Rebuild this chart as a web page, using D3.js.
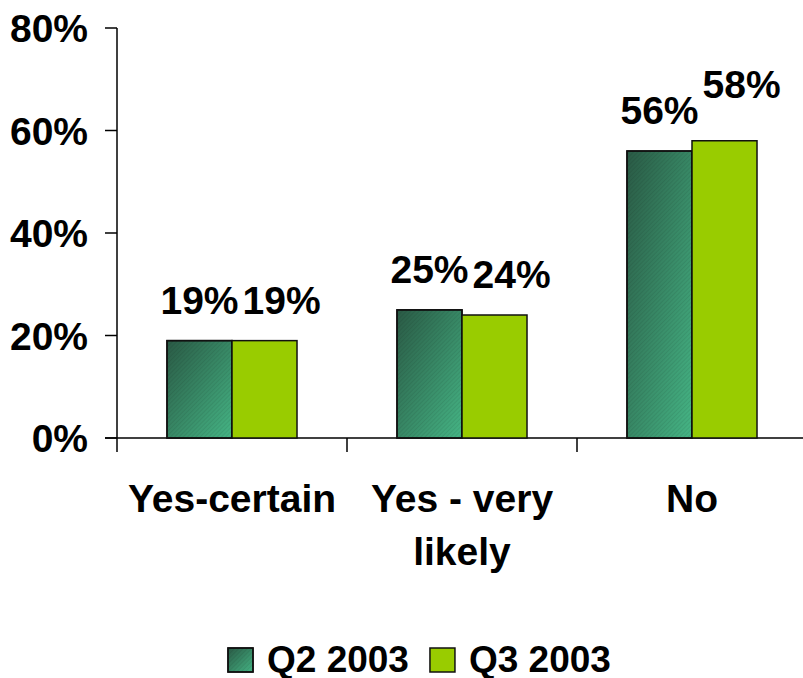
<!DOCTYPE html>
<html lang="en">
<head>
    <meta charset="UTF-8">
    <title>Chart</title>
    <script src="https://cdn.jsdelivr.net/npm/d3@7"></script>
    <style>
        body{margin:0;background:#fff;}
        text{font-family:"Liberation Sans",Arial,sans-serif;font-weight:bold;fill:#000;}
    </style>
</head>
<body>
<svg></svg>
<script>
    //chart data
    var categories = [["Yes-certain"], ["Yes - very", "likely"], ["No"]];
    var seriesNames = ["Q2 2003", "Q3 2003"];
    var q2Values = [19, 25, 56];
    var q3Values = [19, 24, 58];
    var yTicks = [0, 20, 40, 60, 80];

    var W = 803, H = 678;
    var svg = d3.select("svg").attr("width", W).attr("height", H);

    var plotLeft = 117, plotRight = 807, plotTop = 28, plotBottom = 438;
    var fontSize = 39;

    var catKeys = categories.map(function(c){ return c.join(" "); });
    var x = d3.scaleBand().domain(catKeys).range([plotLeft, plotRight]).paddingInner(0).paddingOuter(0);
    var x1 = d3.scaleBand().domain(seriesNames).range([0, x.bandwidth()]).paddingOuter(0.769).paddingInner(0);
    var y = d3.scaleLinear().domain([0, 80]).range([plotBottom, plotTop]);

    //fills
    var defs = svg.append("defs");
    var grad = defs.append("linearGradient").attr("id", "g2")
        .attr("x1", "0%").attr("y1", "0%").attr("x2", "100%").attr("y2", "100%");
    grad.append("stop").attr("offset", "0%").attr("stop-color", "#2a5a45");
    grad.append("stop").attr("offset", "100%").attr("stop-color", "#45b585");
    var pat = defs.append("pattern").attr("id", "hatch")
        .attr("patternUnits", "userSpaceOnUse").attr("width", 3).attr("height", 3)
        .attr("patternTransform", "rotate(45)");
    pat.append("line").attr("x1", 0).attr("y1", 0).attr("x2", 0).attr("y2", 3)
        .attr("stroke", "#000").attr("stroke-opacity", 0.15).attr("stroke-width", 1);

    var rows = catKeys.map(function(k, i){
        return {key: k, lines: categories[i], vals: [q2Values[i], q3Values[i]]};
    });

    //axes lines
    svg.append("line").attr("x1", plotLeft).attr("x2", plotLeft).attr("y1", plotTop).attr("y2", plotBottom + 14)
        .attr("stroke", "#000").attr("stroke-width", 1.5);
    svg.append("line").attr("x1", plotLeft - 12).attr("x2", W).attr("y1", plotBottom).attr("y2", plotBottom)
        .attr("stroke", "#000").attr("stroke-width", 1.5);
    svg.append("g").selectAll("line").data(yTicks).enter().append("line")
        .attr("x1", plotLeft - 12).attr("x2", plotLeft)
        .attr("y1", function(d){ return y(d); }).attr("y2", function(d){ return y(d); })
        .attr("stroke", "#000").attr("stroke-width", 1.5);
    svg.append("g").selectAll("line").data(catKeys.slice(1)).enter().append("line")
        .attr("x1", function(d){ return x(d); }).attr("x2", function(d){ return x(d); })
        .attr("y1", plotBottom).attr("y2", plotBottom + 14)
        .attr("stroke", "#000").attr("stroke-width", 1.5);

    //y tick labels
    svg.append("g").selectAll("text").data(yTicks).enter().append("text")
        .attr("x", 88).attr("y", function(d){ return y(d) + 14; })
        .attr("text-anchor", "end").attr("font-size", fontSize)
        .text(function(d){ return d + "%"; });

    //category labels
    rows.forEach(function(r){
        var cx = x(r.key) + x.bandwidth() / 2;
        var t = svg.append("text").attr("text-anchor", "middle").attr("font-size", fontSize)
            .attr("x", cx).attr("y", 512);
        r.lines.forEach(function(line, i){
            t.append("tspan").attr("x", cx).attr("dy", i === 0 ? 0 : 53).text(line);
        });
    });

    //bars
    rows.forEach(function(r){
        r.vals.forEach(function(v, i){
            var bx = x(r.key) + x1(seriesNames[i]);
            svg.append("rect")
                .attr("x", bx).attr("y", y(v))
                .attr("width", x1.bandwidth()).attr("height", y(0) - y(v))
                .attr("fill", i === 0 ? "url(#g2)" : "#99cc00")
                .attr("stroke", "#111").attr("stroke-width", 1.5);
            if(i === 0){
                svg.append("rect")
                    .attr("x", bx).attr("y", y(v))
                    .attr("width", x1.bandwidth()).attr("height", y(0) - y(v))
                    .attr("fill", "url(#hatch)").attr("stroke", "#111").attr("stroke-width", 1.5);
            }
        });
    });

    //value labels, second label is pushed right (and up if taller) when it would overlap the first
    var labelG = svg.append("g");
    rows.forEach(function(r){
        var prevRight = -1e9;
        r.vals.forEach(function(v, i){
            var cx = x(r.key) + x1(seriesNames[i]) + x1.bandwidth() / 2;
            var t = labelG.append("text").attr("font-size", fontSize)
                .attr("text-anchor", "middle").attr("x", cx).attr("y", y(v) - 27)
                .text(v + "%");
            var w = t.node().getComputedTextLength();
            if(cx - w / 2 < prevRight + 4){
                cx = prevRight + 4 + w / 2;
                t.attr("x", cx);
                if(i > 0 && v > r.vals[i - 1]) t.attr("y", y(v) - 43);
            }
            prevRight = cx + w / 2;
        });
    });

    //legend
    var legend = svg.append("g");
    var lx = 228, legendFont = 37;
    seriesNames.forEach(function(s, i){
        legend.append("rect").attr("x", lx).attr("y", 648).attr("width", 25).attr("height", 24)
            .attr("fill", i === 0 ? "url(#g2)" : "#99cc00").attr("stroke", "#111").attr("stroke-width", 1.5);
        if(i === 0){
            legend.append("rect").attr("x", lx).attr("y", 648).attr("width", 25).attr("height", 24)
                .attr("fill", "url(#hatch)").attr("stroke", "#111").attr("stroke-width", 1.5);
        }
        var t = legend.append("text").attr("x", lx + 39).attr("y", 672)
            .attr("font-size", legendFont).text(s);
        lx = lx + 39 + t.node().getComputedTextLength() + 21;
    });
</script>
</body>
</html>
